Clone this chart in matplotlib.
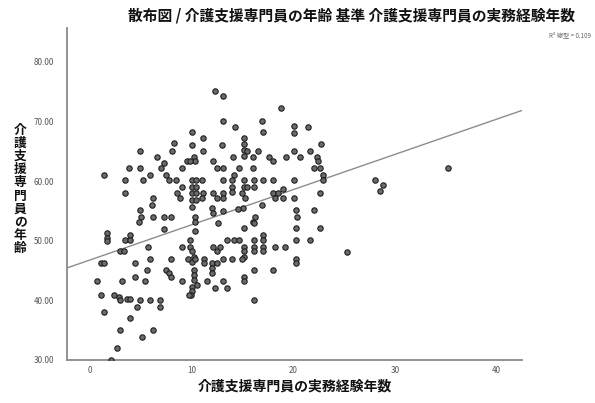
import numpy as np
import matplotlib
matplotlib.use("Agg")
import matplotlib.pyplot as plt

plt.rcParams['font.family'] = ['Noto Sans CJK JP', 'DejaVu Sans']

# 実務経験年数 (x) と 年齢 (y)
years = [12.3, 13.1, 18.8, 13.1, 14.2, 16.9, 17.0, 20.0, 20.0, 21.4,
         10.0, 11.1, 22.7, 8.2, 8.0, 10.0, 13.0, 15.1, 15.1, 15.1,
         15.1, 15.4, 16.5, 20.0, 21.6, 4.9, 6.6, 10.2, 10.3, 11.1,
         14.0, 16.0, 17.6, 18.0, 19.3, 20.6, 22.3, 22.4, 22.6, 7.2,
         7.0, 9.5, 9.8, 12.1, 12.5, 13.1, 3.8, 4.9, 9.0, 14.6,
         16.0, 22.0, 1.3, 5.9, 7.4, 7.7, 8.4, 14.1, 13.9, 13.9,
         13.9, 22.9, 22.9, 3.4, 5.2, 10.0, 10.0, 10.0, 10.0, 10.0,
         10.4, 10.4, 10.4, 10.4, 11.0, 13.1, 15.1, 16.1, 17.0, 18.0,
         20.0, 15.1, 15.4, 16.1, 9.0, 3.4, 8.5, 8.8, 11.1, 11.0,
         12.1, 12.5, 13.1, 13.1, 14.9, 15.2, 18.0, 18.5, 19.0, 18.2,
         19.0, 20.0, 22.6, 6.2, 6.1, 12.0, 12.1, 16.9, 15.0, 14.5,
         22.0, 20.2, 20.3, 4.9, 5.0, 4.8, 6.2, 7.2, 7.9, 10.3,
         10.3, 13.1, 16.2, 16.0, 7.2, 10.3, 12.6, 15.1, 16.1, 20.2,
         22.6, 1.6, 1.6, 1.6, 3.4, 3.9, 3.9, 5.7, 2.9, 3.3,
         9.0, 9.8, 9.8, 10.0, 10.2, 12.1, 12.5, 12.8, 13.4, 14.1,
         14.6, 15.1, 15.1, 15.1, 16.1, 16.1, 16.1, 17.0, 17.0, 17.0,
         17.0, 18.2, 19.2, 20.2, 21.6, 1.0, 1.3, 4.4, 5.9, 7.9,
         9.6, 10.0, 10.3, 11.2, 11.2, 12.0, 12.5, 12.0, 12.0, 13.1,
         13.9, 14.9, 20.2, 20.2, 16.1, 18.0, 5.6, 7.4, 7.7, 7.9,
         10.2, 10.2, 10.2, 9.0, 11.5, 12.3, 13.1, 13.4, 15.1, 15.1,
         0.7, 3.1, 4.4, 5.4, 10.0, 10.0, 9.9, 10.5, 9.7, 1.0,
         2.3, 2.8, 2.9, 3.6, 3.9, 4.9, 5.9, 6.9, 4.6, 6.9,
         16.1, 1.3, 3.9, 2.9, 6.2, 5.1, 2.6, 2.0, 25.3, 28.0,
         28.8, 28.5, 35.2]
ages = [75.2, 74.2, 72.2, 70.1, 69.1, 70.1, 68.3, 69.3, 68.0, 69.0,
        68.3, 67.2, 66.2, 66.4, 65.0, 66.0, 66.0, 67.2, 66.2, 65.2,
        64.2, 65.0, 65.0, 65.0, 65.0, 65.0, 64.0, 64.1, 63.3, 65.0,
        64.1, 64.0, 64.0, 63.3, 64.0, 64.0, 64.0, 63.3, 62.2, 63.1,
        62.2, 63.3, 63.3, 63.3, 62.2, 62.2, 62.2, 62.2, 62.2, 62.2,
        62.2, 62.2, 61.0, 61.0, 61.0, 60.2, 60.2, 61.0, 60.2, 59.1,
        58.2, 61.0, 60.2, 60.2, 60.2, 60.2, 59.1, 58.0, 56.8, 55.7,
        60.2, 59.1, 58.0, 56.8, 60.2, 60.2, 60.2, 60.2, 60.2, 60.2,
        60.2, 59.1, 59.1, 59.1, 59.1, 58.0, 58.0, 57.1, 58.0, 57.1,
        58.0, 57.1, 58.0, 57.1, 58.0, 57.1, 58.0, 58.0, 58.6, 57.1,
        57.1, 57.1, 58.0, 57.1, 56.0, 55.5, 54.6, 56.0, 55.5, 55.3,
        55.2, 55.2, 54.0, 55.2, 54.0, 53.2, 54.0, 54.0, 54.0, 54.0,
        53.2, 55.0, 54.0, 53.2, 52.0, 51.7, 52.9, 52.1, 52.9, 52.1,
        52.1, 51.3, 50.4, 49.9, 50.1, 50.9, 50.1, 49.0, 48.2, 48.2,
        49.0, 50.1, 49.0, 48.2, 47.3, 49.0, 48.2, 49.0, 50.1, 50.1,
        50.1, 49.0, 48.2, 47.3, 50.1, 49.0, 48.2, 50.9, 50.1, 49.0,
        48.2, 49.0, 49.0, 50.1, 50.1, 46.2, 46.2, 46.2, 47.0, 47.0,
        47.0, 46.5, 47.0, 47.0, 46.2, 46.2, 46.2, 45.4, 44.6, 47.0,
        47.0, 47.0, 47.0, 46.2, 45.1, 45.1, 45.1, 45.1, 44.6, 44.0,
        45.1, 44.3, 43.4, 43.2, 43.2, 42.1, 43.2, 42.1, 44.0, 43.2,
        43.2, 43.2, 44.0, 43.2, 42.3, 41.6, 40.9, 42.5, 40.9, 40.9,
        40.9, 40.6, 40.1, 40.3, 40.3, 40.1, 40.1, 40.1, 38.9, 38.9,
        40.1, 38.1, 37.0, 35.0, 35.0, 33.9, 32.0, 30.0, 48.1, 60.2,
        59.4, 58.4, 62.2]

# 線型 fit line
fit_intercept = 46.8
fit_slope = 0.59
r2_text = "R² 線型 = 0.109"

x_ticks = [0, 10, 20, 30, 40]
y_ticks = [30, 40, 50, 60, 70, 80]

fig = plt.figure(figsize=(5.95, 4.03), dpi=100)
ax = fig.add_axes([0.1126, 0.1067, 0.765, 0.824])

ax.scatter(years, ages, s=15, facecolor='#6a6a6a', edgecolor='#1e1e1e',
           linewidth=0.8, zorder=3)

xlim = (-2.3, 42.5)
xs = np.array(xlim)
ax.plot(xs, fit_intercept + fit_slope * xs, color='#8c8c8c', lw=1.0, zorder=2)

ax.set_xlim(*xlim)
ax.set_ylim(30, 85.7)
ax.set_xticks(x_ticks)
ax.set_xticklabels([str(t) for t in x_ticks])
ax.set_yticks(y_ticks)
ax.set_yticklabels(["%.2f" % t for t in y_ticks])
ax.tick_params(length=0, labelsize=5.8, colors='#555555')
ax.tick_params(axis='x', pad=4)
ax.tick_params(axis='y', pad=9)

for side in ['top', 'right']:
    ax.spines[side].set_visible(False)
for side in ['left', 'bottom']:
    ax.spines[side].set_color('#8a8a8a')
    ax.spines[side].set_linewidth(1.3)

fig.text(0.591, 0.962, "散布図 / 介護支援専門員の年齢 基準 介護支援専門員の実務経験年数",
         ha='center', va='center', fontsize=10.6, fontweight='bold', color='#111111')
fig.text(0.993, 0.913, r2_text, ha='right', va='center', fontsize=4.5, color='#666666')

fig.text(0.496, 0.042, "介護支援専門員の実務経験年数", ha='center', va='center',
         fontsize=10, fontweight='bold', color='#111111')
fig.text(0.034, 0.53, "\n".join("介護支援専門員の年齢"), ha='center', va='center',
         fontsize=9.2, fontweight='bold', color='#111111', linespacing=1.02)

fig.savefig("out.png", dpi=100)
